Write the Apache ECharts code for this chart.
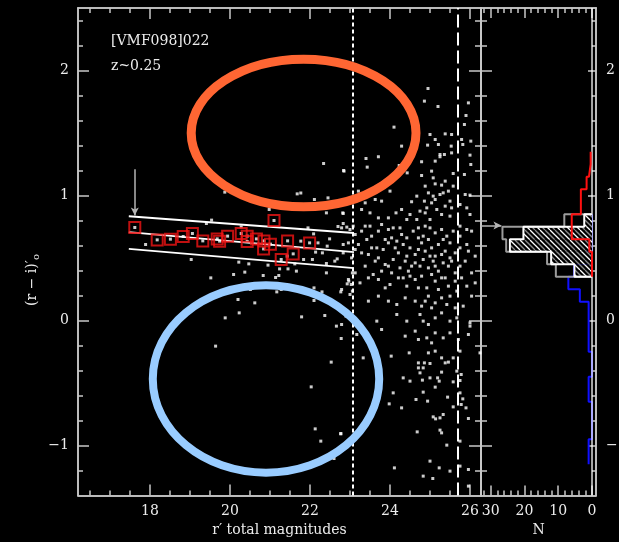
<!DOCTYPE html>
<html>
<head>
<meta charset="utf-8">
<script src="https://cdn.jsdelivr.net/npm/echarts@6/dist/echarts.min.js"></script>
<style>
html, body { margin: 0; padding: 0; background: #000; }
#chart { width: 619px; height: 542px; }
</style>
</head>
<body>
<div id="chart"></div>
<script>
// ---- galaxies in the field: [r' total magnitude, (r - i)' colour] ----
const fieldGalaxies = [
  [22.34,1.256],[22.84,1.20],[21.68,1.013],[21.77,1.02],[22.11,0.968],[22.45,0.981],[22.41,0.861],[19.87,1.027],
  [20.98,0.888],[22.83,0.856],[22.83,0.776],[22.92,0.747],[22.70,0.752],[19.54,0.803],[19.41,0.776],[20.28,0.749],
  [22.09,0.693],[21.95,0.741],[22.49,0.653],[22.20,0.621],[22.43,0.595],[22.83,0.608],[21.77,0.635],[22.14,0.547],
  [22.31,0.541],[17.89,0.608],[19.03,0.488],[19.52,0.341],[20.09,0.368],[20.22,0.467],[20.37,0.387],[20.47,0.453],
  [20.51,0.248],[20.83,0.36],[20.95,0.443],[21.14,0.344],[21.17,0.229],[21.22,0.36],[21.24,0.413],[21.45,0.413],
  [21.62,0.453],[21.66,0.395],[21.28,0.248],[20.2,0.168],[20.62,0.141],[20.23,0.061],[19.88,0.021],[21.79,0.029],
  [22.1,0.261],[22.1,0.16],[22.3,0.229],[22.37,0.04],[22.66,-0.045],[22.78,-0.144],[22.77,0.229],[19.64,-0.205],
  [22.03,-0.531],[22.53,-0.333],[22.13,-0.867],[22.27,-0.965],[22.77,-0.904],[22.6,-1.104],[21.43,0.515],[21.84,0.488],
  [22.06,0.488],[22.41,0.456],[22.62,0.475],[22.68,0.493],[22.41,0.381],[22.97,0.315],[23.03,0.288],[22.93,0.293],
  [23.06,0.235],[22.9,0.035],[23.06,0.381],
  [24.86,1.755],[25.96,1.741],[25.86,1.568],[24.1,1.547],[24.29,1.395],[23.71,1.31],[23.4,1.296],[23.43,1.227],
  [22.85,1.195],[24.23,1.24],[24.43,1.181],[24.94,1.403],[25.0,1.488],[25.13,1.448],[25.21,1.408],[25.38,1.493],
  [25.54,1.488],[25.53,1.395],[25.79,1.448],[25.82,1.408],[26.02,1.435],[26.0,1.323],[26.02,1.248],[25.25,1.328],
  [25.36,1.328],[25.25,1.31],[25.54,1.341],[25.13,1.275],[24.79,1.27],[25.04,1.195],[25.58,1.176],[25.86,1.168],
  [24.79,1.16],[25.08,1.141],[25.13,1.093],[24.88,1.075],[25.29,1.083],[25.38,1.115],[25.58,1.075],[25.88,1.008],
  [26.0,1.003],[24.96,1.021],[25.08,0.995],[25.13,0.968],[25.25,1.008],[25.33,1.021],[25.46,1.035],[24.86,0.955],
  [24.67,0.995],[24.54,0.95],[24.92,0.901],[25.04,0.941],[25.17,0.888],[25.38,0.915],[25.5,0.955],[25.54,0.901],
  [25.75,0.928],[25.92,0.901],[24.0,1.035],[23.79,0.955],[23.63,0.968],[23.21,1.035],[23.38,0.941],[23.5,0.861],
  [23.29,0.888],[22.82,0.861],[24.29,0.888],[24.5,0.848],[24.75,0.875],[24.15,0.861],[23.96,0.821],[23.71,0.821],
  [24.42,0.808],[24.67,0.808],[24.88,0.861],[25.0,0.808],[25.29,0.848],[25.5,0.835],[26.0,0.848],
  [24.95,1.856],[25.2,1.712],[25.9,1.64],
  [22.79,0.741],[23.0,0.728],[23.29,0.715],[23.5,0.755],[23.71,0.715],[23.96,0.728],[24.25,0.741],[24.29,0.688],
  [24.42,0.661],[24.58,0.715],[24.71,0.741],[24.83,0.675],[25.0,0.741],[25.13,0.701],[25.29,0.728],[25.42,0.675],
  [25.58,0.715],[25.92,0.728],[26.04,0.715],[23.13,0.688],[23.42,0.648],[23.88,0.648],[24.04,0.661],
  [22.96,0.621],[23.21,0.608],[23.29,0.541],[23.46,0.528],[23.67,0.581],[23.83,0.568],[23.96,0.621],[24.21,0.541],
  [24.33,0.608],[24.5,0.581],[24.63,0.528],[24.79,0.621],[24.88,0.555],[25.04,0.581],[25.13,0.515],[25.21,0.608],
  [25.38,0.555],[25.5,0.621],[25.63,0.541],[25.75,0.581],[25.92,0.608],[26.13,0.515],[22.83,0.541],[23.04,0.501],
  [23.38,0.435],[23.63,0.475],[23.88,0.448],[23.79,0.395],[24.08,0.488],[24.25,0.421],[24.38,0.475],[24.46,0.395],
  [24.63,0.461],[24.75,0.435],[24.96,0.421],[25.08,0.475],[25.21,0.395],[25.33,0.461],[25.46,0.435],[25.63,0.381],
  [25.88,0.475],[26.04,0.381],[24.04,0.381],[23.13,0.381],
  [22.96,0.328],[23.25,0.301],[23.46,0.341],[23.71,0.328],[24.0,0.288],[24.21,0.341],[24.42,0.275],[24.63,0.328],
  [24.79,0.355],[24.92,0.261],[25.13,0.315],[25.29,0.341],[25.46,0.275],[25.63,0.315],[25.92,0.275],[26.13,0.301],
  [22.79,0.248],[23.0,0.208],[23.46,0.155],[23.71,0.195],[23.96,0.155],[24.17,0.128],[24.38,0.181],[24.63,0.155],
  [24.79,0.115],[24.96,0.195],[25.13,0.141],[25.29,0.181],[25.42,0.128],[25.63,0.101],[25.83,0.115],
  [23.67,-0.005],[24.17,0.048],[24.42,-0.005],[24.75,0.048],[24.83,-0.005],[24.96,-0.032],[25.13,0.021],[25.29,0.061],
  [25.5,-0.005],[25.67,0.021],[26.0,-0.019],[22.79,-0.032],
  [23.17,-0.112],[23.79,-0.072],[24.38,-0.125],[24.63,-0.085],[24.71,-0.152],[24.92,-0.139],[25.13,-0.099],[25.33,-0.139],
  [25.5,-0.099],[25.04,-0.179],[25.71,-0.152],[25.96,-0.112],[26.0,-0.045],
  [23.08,0.755],[23.38,0.755],[23.79,0.768],[24.08,0.741],[24.88,0.755],[25.75,0.755],[23.54,0.675],[24.17,0.635],
  [24.71,0.661],[24.96,0.648],[25.33,0.648],[25.75,0.675],[23.13,0.568],[23.54,0.581],[24.13,0.581],[24.42,0.515],
  [24.71,0.568],[25.0,0.515],[25.29,0.528],[25.5,0.501],[25.96,0.555],[23.71,0.501],[23.96,0.435],[24.54,0.435],
  [24.83,0.488],[25.13,0.435],[25.54,0.475],[25.75,0.435],[23.58,0.368],[24.33,0.341],[24.5,0.355],[25.04,0.368],
  [25.38,0.341],[25.79,0.341],[23.88,0.261],[24.71,0.261],[25.21,0.248],[25.67,0.235],[24.88,0.155],[25.04,0.101],
  [25.5,0.195],[26.04,0.195],
  [23.33,-0.299],[24.03,-0.285],[24.48,-0.259],[24.96,-0.259],[25.13,-0.245],[24.71,-0.339],[24.86,-0.339],[25.0,-0.344],
  [24.71,-0.379],[25.29,-0.299],[25.38,-0.339],[25.46,-0.333],[25.58,-0.299],[25.75,-0.245],[25.67,-0.405],[25.78,-0.432],
  [24.83,-0.379],[24.75,-0.419],[25.29,-0.413],[24.33,-0.459],[24.5,-0.485],[24.81,-0.477],[25.0,-0.459],[25.19,-0.459],
  [25.23,-0.485],[25.58,-0.491],[25.75,-0.48],[25.13,-0.533],[24.83,-0.573],[24.08,-0.579],[24.65,-0.632],[24.94,-0.645],
  [25.44,-0.613],[25.75,-0.579],[25.82,-0.627],[23.98,-0.667],[24.29,-0.699],[25.58,-0.691],[25.78,-0.672],[25.9,-0.699],
  [25.08,-0.771],[25.14,-0.787],[25.25,-0.779],[25.33,-0.752],[25.96,-0.784],[22.77,-0.907],[24.68,-0.891],[25.25,-0.877],
  [25.29,-0.899],[25.42,-0.997],[25.75,-0.965],[25.0,-1.125],[25.23,-1.179],[25.5,-1.205],[25.75,-1.165],[25.96,-1.192],
  [24.11,-1.179],[24.83,-1.245],[25.07,-1.264],[25.96,-1.325],[26.25,-0.259]
];

// ---- red-sequence members (boxed) ----
const redSeqMag   = [17.62, 18.18, 18.51, 18.83, 19.06, 19.32, 19.68, 19.74, 19.94, 20.28, 20.43,
                     20.43, 20.66, 20.85, 20.84, 21.01, 21.10, 21.44, 21.58, 21.99, 21.28];
const redSeqColor = [0.744, 0.645, 0.651, 0.672, 0.696, 0.637, 0.653, 0.635, 0.675, 0.696, 0.675,
                     0.632, 0.653, 0.637, 0.573, 0.611, 0.800, 0.637, 0.533, 0.621, 0.488];

// ---- colour-magnitude relation and its band ----
const cmrMag   = [17.47, 23.10];
const cmrUpper = [0.834, 0.700];
const cmrMid   = [0.707, 0.547];
const cmrLower = [0.573, 0.419];
const brightestArrow = { mag: 17.62, from: 1.21, to: 0.84 };

// ---- limits ----
const limitDotted = 23.08;
const limitDashed = 25.69;

// ---- colour histograms (bin lower edges, width 0.1) ----
const BIN = 0.1;
const allLo    = [0.35, 0.45, 0.55, 0.65, 0.75];
const allN     = [10.7, 13.3, 25.4, 26.5, 8.2];
const hatchLo  = [0.35, 0.45, 0.55, 0.65, 0.75];
const hatchN   = [5.2, 12.1, 24.3, 20.3, 2.3];
const redLo    = [1.25, 1.15, 1.05, 0.95, 0.85, 0.75, 0.65, 0.55, 0.45, 0.35];
const redN     = [0.4, 0.9, 1.6, 3.3, 3.3, 6.0, 6.0, 0.8, 0, 0];
const blueLo   = [0.75, 0.65, 0.55, 0.45, 0.35, 0.25, 0.15, 0.05, -0.05, -0.15, -0.25, -0.35, -0.45,
                  -0.55, -0.65, -0.75, -0.85, -0.95, -1.05, -1.15];
const blueN    = [0, 0, 0, 1.4, 5.3, 7.0, 3.6, 1, 1, 1, 1, 0, 0, 1, 1, 0, 0, 0, 1, 1];
const peakArrow = { color: 0.76, from: 32.7, to: 26.8 };

// ---- annotation ellipses (centre, semi-axes in data units) ----
const orangeCentre = [21.84, 1.50], orangeRadii = [2.81, 0.59];
const blueCentre   = [20.90, -0.467], blueRadii  = [2.83, 0.75];

// ---- tick values ----
const magMajor = [18, 20, 22, 24, 26];
const magMinor = [16.5,17,17.5,18.5,19,19.5,20.5,21,21.5,22.5,23,23.5,24.5,25,25.5];
const colMajor = [-1, 0, 1, 2];
const colMinor = [-1.2,-0.8,-0.6,-0.4,-0.2,0.2,0.4,0.6,0.8,1.2,1.4,1.6,1.8,2.2,2.4];
const nMajor   = [0, 10, 20, 30];
const nMinor   = [2,4,6,8,12,14,16,18,22,24,26,28,32];

const MAG_MIN = 16.2, MAG_MAX = 26.275;
const COL_MIN = -1.4, COL_MAX = 2.5;
const N_MIN = -1.18, N_MAX = 32.85;

const FRAME = '#c8c8c8';
const TEXT = '#ececec';
const SERIF = '"DejaVu Serif", "Liberation Serif", serif';

function minusFmt(v) { return String(v).replace('-', '\u2212'); }

function ax(gridIndex, position, min, max, ticks, len, labels, extra) {
  return Object.assign({
    type: 'value', gridIndex: gridIndex, position: position, min: min, max: max,
    axisLine: { show: true, onZero: false, lineStyle: { color: FRAME, width: 1.5 } },
    axisTick: { show: true, inside: true, length: len, customValues: ticks, lineStyle: { color: FRAME, width: 1.5 } },
    axisLabel: labels ? { show: true, customValues: labels, color: TEXT, fontFamily: SERIF, fontSize: 14, margin: 9, formatter: minusFmt }
                      : { show: false },
    splitLine: { show: false }
  }, extra || {});
}

// step outline of a histogram drawn sideways (counts along x, colour along y)
function stepLine(lo, counts, closeTop, closeBottom) {
  const idx = lo.map((v, i) => i).sort((a, b) => lo[b] - lo[a]);
  const pts = [];
  if (closeTop) pts.push([0, lo[idx[0]] + BIN]);
  idx.forEach(i => { pts.push([counts[i], lo[i] + BIN]); pts.push([counts[i], lo[i]]); });
  if (closeBottom) pts.push([0, lo[idx[idx.length - 1]]]);
  return pts;
}

// hatch tile: alternating white and grey diagonals
const tile = document.createElement('canvas');
tile.width = 10; tile.height = 10;
(function () {
  const g = tile.getContext('2d');
  g.fillStyle = '#000'; g.fillRect(0, 0, 10, 10);
  g.lineWidth = 1.3;
  g.strokeStyle = '#ffffff';
  [[0, 0, 10, 10], [-10, 0, 0, 10], [10, 0, 20, 10]].forEach(s => { g.beginPath(); g.moveTo(s[0], s[1]); g.lineTo(s[2], s[3]); g.stroke(); });
  g.strokeStyle = '#8a8a8a';
  [[5, 0, 15, 10], [-5, 0, 5, 10]].forEach(s => { g.beginPath(); g.moveTo(s[0], s[1]); g.lineTo(s[2], s[3]); g.stroke(); });
})();
const hatchFill = { image: tile, repeat: 'repeat' };

const chart = echarts.init(document.getElementById('chart'), null, { renderer: 'canvas' });

const redSeq = redSeqMag.map((m, i) => [m, redSeqColor[i]]);

const option = {
  backgroundColor: '#000',
  animation: false,
  grid: [
    { left: 78, top: 8, width: 403, height: 487.5, outerBoundsMode: 'none' },
    { left: 481, top: 8, width: 115, height: 487.5, outerBoundsMode: 'none' }
  ],
  xAxis: [
    ax(0, 'bottom', MAG_MIN, MAG_MAX, magMajor, 11, magMajor, {
      name: 'r\u2032 total magnitudes', nameLocation: 'middle', nameGap: 19,
      nameTextStyle: { color: TEXT, fontFamily: SERIF, fontSize: 14 }
    }),
    ax(0, 'bottom', MAG_MIN, MAG_MAX, magMinor, 5, null),
    ax(0, 'top', MAG_MIN, MAG_MAX, magMajor, 11, null),
    ax(0, 'top', MAG_MIN, MAG_MAX, magMinor, 5, null),
    ax(1, 'bottom', N_MIN, N_MAX, nMajor, 10, nMajor, {
      inverse: true, name: 'N', nameLocation: 'middle', nameGap: 25,
      nameTextStyle: { color: TEXT, fontFamily: SERIF, fontSize: 14 }
    }),
    ax(1, 'bottom', N_MIN, N_MAX, nMinor, 5, null, { inverse: true }),
    ax(1, 'top', N_MIN, N_MAX, nMajor, 10, null, { inverse: true }),
    ax(1, 'top', N_MIN, N_MAX, nMinor, 5, null, { inverse: true })
  ],
  yAxis: [
    ax(0, 'left', COL_MIN, COL_MAX, colMajor, 11, colMajor),
    ax(0, 'left', COL_MIN, COL_MAX, colMinor, 5, null),
    ax(0, 'right', COL_MIN, COL_MAX, colMajor, 12, null),
    ax(0, 'right', COL_MIN, COL_MAX, colMinor, 6, null),
    ax(1, 'left', COL_MIN, COL_MAX, colMajor, 11, null),
    ax(1, 'left', COL_MIN, COL_MAX, colMinor, 6, null),
    ax(1, 'right', COL_MIN, COL_MAX, colMajor, 8, colMajor, { axisLabel: { show: true, customValues: colMajor, color: TEXT, fontFamily: SERIF, fontSize: 14, margin: 10, formatter: minusFmt } }),
    ax(1, 'right', COL_MIN, COL_MAX, colMinor, 4, null)
  ],
  series: [
    {
      name: 'field', type: 'scatter', xAxisIndex: 0, yAxisIndex: 0,
      symbol: 'rect', symbolSize: 3, itemStyle: { color: '#ffffff' },
      data: fieldGalaxies.concat(redSeq), z: 3
    },
    {
      name: 'red sequence', type: 'scatter', xAxisIndex: 0, yAxisIndex: 0,
      symbol: 'rect', symbolSize: 11,
      itemStyle: { color: 'rgba(0,0,0,0)', borderColor: '#f01414', borderWidth: 2 },
      data: redSeq, z: 4
    },
    {
      name: 'cmr upper', type: 'line', xAxisIndex: 0, yAxisIndex: 0, symbol: 'none',
      lineStyle: { color: '#ffffff', width: 2 }, data: cmrMag.map((m, i) => [m, cmrUpper[i]]), z: 2
    },
    {
      name: 'cmr', type: 'line', xAxisIndex: 0, yAxisIndex: 0, symbol: 'none',
      lineStyle: { color: '#ffffff', width: 2 }, data: cmrMag.map((m, i) => [m, cmrMid[i]]), z: 2,
      markLine: {
        silent: true, symbol: 'none', label: { show: false },
        data: [
          { xAxis: limitDotted, lineStyle: { color: '#ffffff', width: 2, type: [4, 3] } },
          { xAxis: limitDashed, lineStyle: { color: '#ffffff', width: 2, type: [13, 5] } }
        ]
      }
    },
    {
      name: 'cmr lower', type: 'line', xAxisIndex: 0, yAxisIndex: 0, symbol: 'none',
      lineStyle: { color: '#ffffff', width: 2 }, data: cmrMag.map((m, i) => [m, cmrLower[i]]), z: 2
    },
    {
      name: 'brightest', type: 'line', xAxisIndex: 0, yAxisIndex: 0, symbol: 'none',
      lineStyle: { width: 0 }, data: [[brightestArrow.mag, brightestArrow.from]],
      markLine: {
        silent: true, symbol: ['none', 'arrow'], symbolSize: [6, 8], label: { show: false },
        lineStyle: { color: '#b4b4b4', width: 1.5, type: 'solid' },
        data: [[{ coord: [brightestArrow.mag, brightestArrow.from] }, { coord: [brightestArrow.mag, brightestArrow.to] }]]
      }
    },
    // ---- histogram panel ----
    {
      name: 'blue', type: 'line', xAxisIndex: 4, yAxisIndex: 4, symbol: 'none',
      lineStyle: { color: '#1010ff', width: 2 }, data: stepLine(blueLo, blueN, true, false), z: 2
    },
    {
      name: 'zero', type: 'line', xAxisIndex: 4, yAxisIndex: 4, symbol: 'none',
      lineStyle: { color: '#ffffff', width: 1.3 }, data: [[0, COL_MIN], [0, COL_MAX]], z: 3
    },
    {
      name: 'hatched', type: 'custom', xAxisIndex: 4, yAxisIndex: 4, z: 4,
      encode: { x: 2, y: [0, 1] },
      data: hatchLo.map((lo, i) => [lo, lo + BIN, hatchN[i]]),
      renderItem: function (params, api) {
        const a = api.coord([0, api.value(1)]);
        const b = api.coord([api.value(2), api.value(0)]);
        return {
          type: 'rect',
          shape: { x: Math.min(a[0], b[0]), y: Math.min(a[1], b[1]), width: Math.abs(b[0] - a[0]), height: Math.abs(b[1] - a[1]) },
          style: { fill: hatchFill }
        };
      }
    },
    {
      name: 'all', type: 'line', xAxisIndex: 4, yAxisIndex: 4, symbol: 'none',
      lineStyle: { color: '#9c9c9c', width: 2 }, data: stepLine(allLo, allN, true, true), z: 5
    },
    {
      name: 'hatched outline', type: 'line', xAxisIndex: 4, yAxisIndex: 4, symbol: 'none',
      lineStyle: { color: '#ffffff', width: 2 }, data: stepLine(hatchLo, hatchN, true, true), z: 6
    },
    {
      name: 'red', type: 'line', xAxisIndex: 4, yAxisIndex: 4, symbol: 'none',
      lineStyle: { color: '#ff1010', width: 2 }, data: stepLine(redLo, redN, false, false), z: 7
    },
    {
      name: 'peak', type: 'line', xAxisIndex: 4, yAxisIndex: 4, symbol: 'none',
      lineStyle: { width: 0 }, data: [[peakArrow.from, peakArrow.color]],
      markLine: {
        silent: true, symbol: ['none', 'arrow'], symbolSize: [6, 8], label: { show: false },
        lineStyle: { color: '#b4b4b4', width: 1.5, type: 'solid' },
        data: [[{ coord: [peakArrow.from, peakArrow.color] }, { coord: [peakArrow.to, peakArrow.color] }]]
      }
    }
  ]
};

chart.setOption(option);

function ellipseShape(centre, radii) {
  const f = { xAxisIndex: 0, yAxisIndex: 0 };
  const c = chart.convertToPixel(f, centre);
  const e = chart.convertToPixel(f, [centre[0] + radii[0], centre[1] + radii[1]]);
  return { cx: c[0], cy: c[1], rx: Math.abs(e[0] - c[0]), ry: Math.abs(e[1] - c[1]) };
}

chart.setOption({
  graphic: [
    { type: 'ellipse', z: 20, silent: true, shape: ellipseShape(orangeCentre, orangeRadii),
      style: { fill: 'none', stroke: '#ff6633', lineWidth: 9 } },
    { type: 'ellipse', z: 20, silent: true, shape: ellipseShape(blueCentre, blueRadii),
      style: { fill: 'none', stroke: '#99ccff', lineWidth: 8 } },
    { type: 'text', z: 21, x: 111, y: 41, silent: true,
      style: { text: '[VMF098]022', fill: TEXT, font: '14px ' + SERIF, align: 'left', verticalAlign: 'middle' } },
    { type: 'text', z: 21, x: 111, y: 66, silent: true,
      style: { text: 'z~0.25', fill: TEXT, font: '14px ' + SERIF, align: 'left', verticalAlign: 'middle' } },
    { type: 'text', z: 21, x: 32, y: 280, rotation: Math.PI / 2, silent: true,
      style: {
        text: '(r \u2212 i)\u2032{s|o}', fill: TEXT, font: '14px ' + SERIF, align: 'center', verticalAlign: 'middle',
        rich: { s: { fontSize: 10, fontFamily: SERIF, fill: TEXT, padding: [8, 0, 0, 0] } }
      } }
  ]
});
</script>
</body>
</html>
